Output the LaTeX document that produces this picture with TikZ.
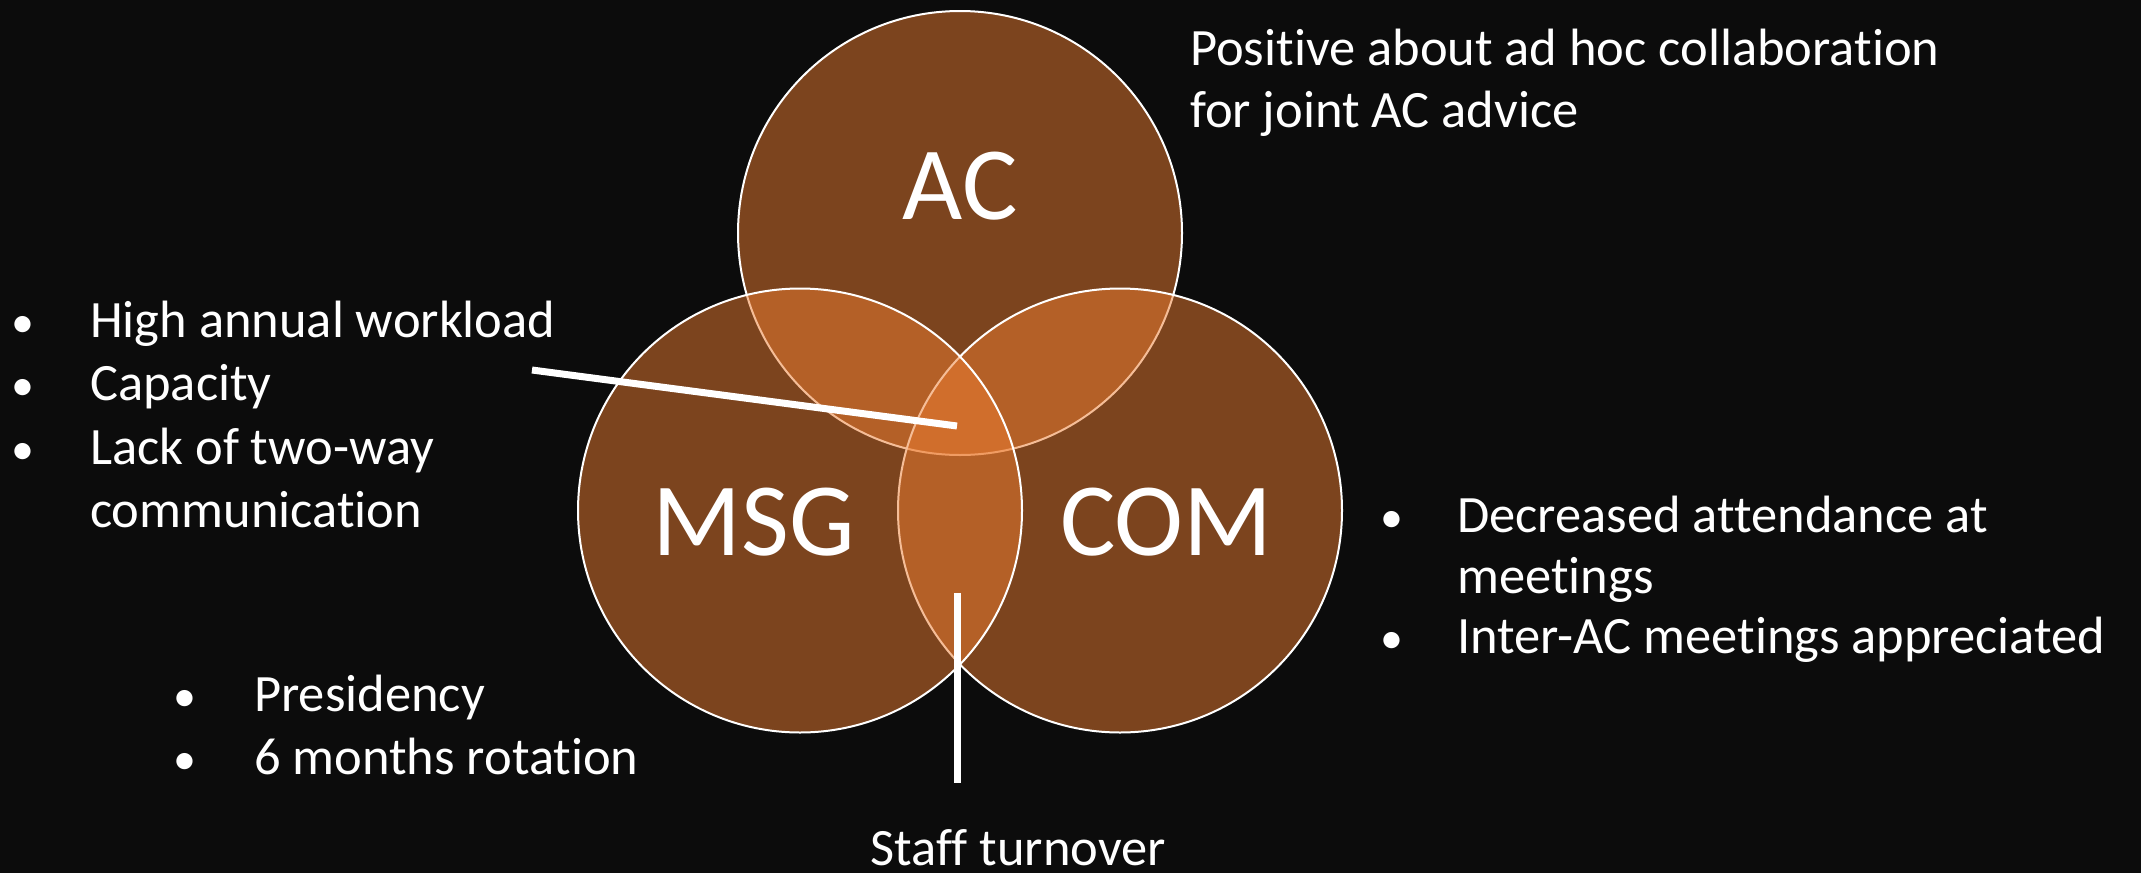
\documentclass[tikz,border=0pt]{standalone}
\usepackage{fontspec}
\setmainfont{Carlito}[Ligatures={NoCommon}]
\definecolor{bgc}{HTML}{0C0C0C}
\definecolor{orangefill}{HTML}{ED7D31}
\begin{document}
\begin{tikzpicture}[x=1pt,y=-1pt,
  setc/.style={circle, minimum size=444pt, inner sep=0pt, draw=white, line width=2pt, fill=orangefill, fill opacity=0.5, draw opacity=1},
  biglabel/.style={text=white, inner sep=0pt, anchor=base, font=\fontsize{104}{126}\selectfont},
  txt/.style={text=white, inner sep=0pt, anchor=base west, font=\fontsize{52.5}{63}\selectfont},
  bul/.style={text=white, inner sep=0pt, anchor=base, font=\fontsize{46}{63}\selectfont},
  pointer/.style={draw=white, line width=7pt}]
\fill[bgc] (0,0) rectangle (2141,873);
\useasboundingbox (0,0) rectangle (2141,873);
% circles (order: AC, COM, MSG)
\node[setc] (ac) at (960,233) {};
\node[setc] (com) at (1120,510.5) {};
\node[setc] (msg) at (800,510.5) {};
% labels
\node[biglabel] (aclab) at (960,219) {AC};
\node[biglabel] (msglab) at (753.5,555) {MSG};
\node[biglabel] (comlab) at (1166.5,555) {COM};
% top right text
\node[txt] (pos1) at (1190,65) {Positive about ad hoc collaboration};
\node[txt] (pos2) at (1190,127) {for joint AC advice};
% left bullets
\node[bul] (lb1) at (23,337) {•};
\node[txt] (lt1) at (90,337) {High annual workload};
\node[bul] (lb2) at (23,400) {•};
\node[txt] (lt2) at (90,400) {Capacity};
\node[bul] (lb3) at (23,464) {•};
\node[txt] (lt3) at (90,464) {Lack of two-way};
\node[txt] (lt4) at (90,527) {communication};
% bottom left bullets
\node[bul] (pb1) at (185,711) {•};
\node[txt] (pt1) at (254,711) {Presidency};
\node[bul] (pb2) at (185,774) {•};
\node[txt] (pt2) at (254,774) {6 months rotation};
% right bullets
\node[bul] (rb1) at (1392,532) {•};
\node[txt] (rt1) at (1457,532) {Decreased attendance at};
\node[txt] (rt2) at (1457,593) {meetings};
\node[bul] (rb2) at (1392,653) {•};
\node[txt] (rt3) at (1457,653) {Inter-AC meetings appreciated};
% staff turnover
\node[text=white, inner sep=0pt, anchor=base, font=\fontsize{52.5}{63}\selectfont] (staff) at (1018,865) {Staff turnover};
% pointer lines
\coordinate (d1) at (532,370);
\coordinate (d2) at (957,426);
\coordinate (v1) at (957,593);
\coordinate (v2) at (957,783);
\draw[pointer] (d1) -- (d2);
\draw[pointer] (v1) -- (v2);
\end{tikzpicture}
\end{document}
